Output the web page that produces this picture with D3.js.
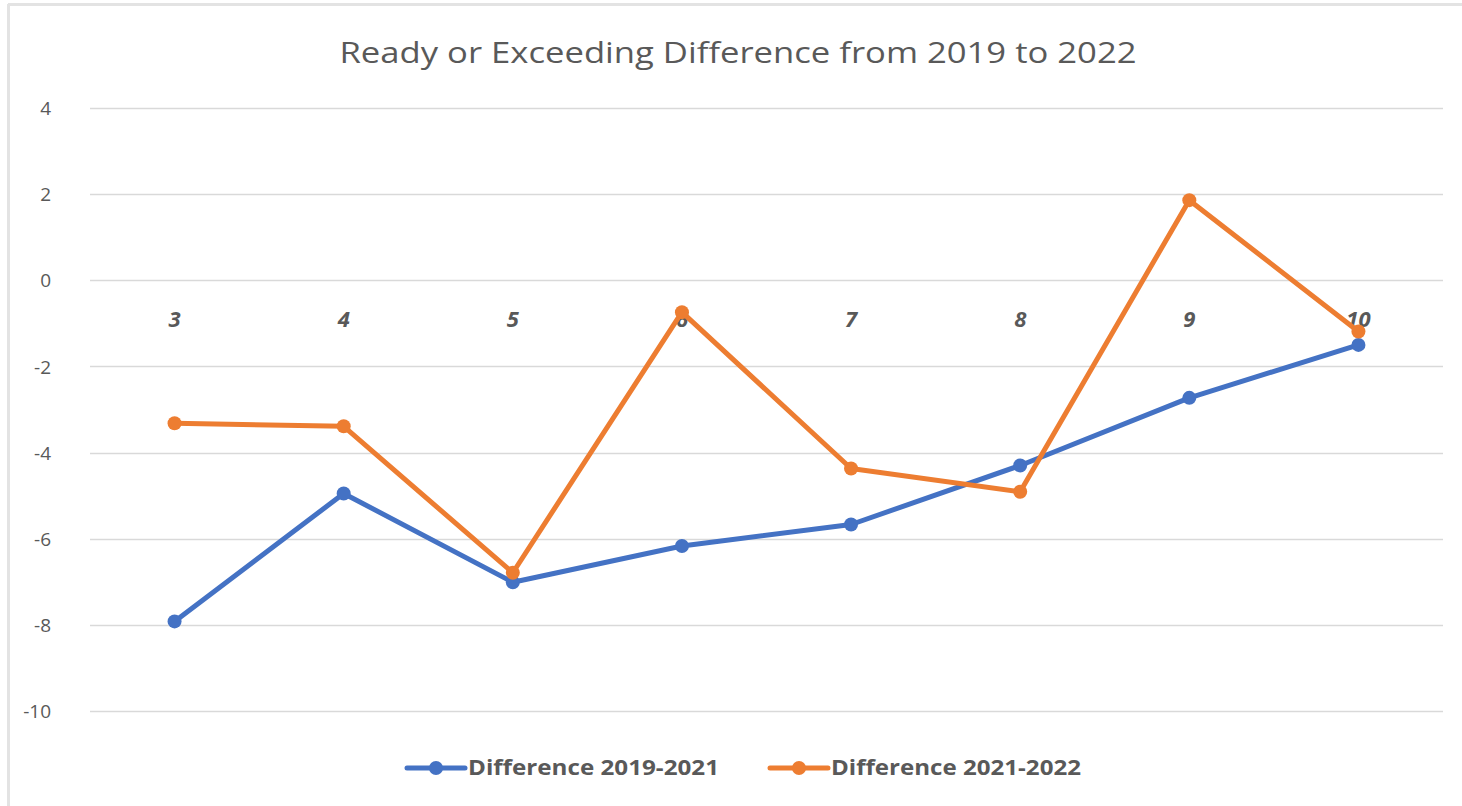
<!DOCTYPE html>
<html>
<head>
<meta charset="utf-8">
<script src="https://cdn.jsdelivr.net/npm/d3@7"></script>
<style>
    body { margin: 0; background: #fff; }
    svg { display: block; }
</style>
</head>
<body>
<div id="chart"></div>
<script>
const grades = ['3', '4', '5', '6', '7', '8', '9', '10'];
const diff2019to2021 = [-7.92, -4.95, -7.01, -6.17, -5.67, -4.30, -2.73, -1.50];
const diff2021to2022 = [-3.32, -3.39, -6.79, -0.74, -4.37, -4.91, 1.86, -1.19];
const yTicks = [4, 2, 0, -2, -4, -6, -8, -10];
const seriesNames = ['Difference 2019-2021', 'Difference 2021-2022'];

const width = 1462;
const height = 806;
const colors = ['#4472C4', '#ED7D31'];
const textColor = '#595959';

let svg = d3.select('#chart').append('svg')
    .attr('width', width)
    .attr('height', height);

// chart frame (only top and left edges visible)
svg.append('line')
    .attr('x1', 8).attr('x2', width).attr('y1', 4.5).attr('y2', 4.5)
    .attr('stroke', '#e3e3e3').attr('stroke-width', 3);
svg.append('line')
    .attr('x1', 8.5).attr('x2', 8.5).attr('y1', 4).attr('y2', height)
    .attr('stroke', '#e3e3e3').attr('stroke-width', 3);

let x = d3.scaleBand()
    .domain(grades)
    .range([90, 1443]);

let y = d3.scaleLinear()
    .domain([-10, 4])
    .range([711, 108]);

// gridlines
svg.append('g')
    .selectAll('line')
    .data(yTicks)
    .enter()
    .append('line')
    .attr('x1', 90)
    .attr('x2', 1443)
    .attr('y1', d => Math.round(y(d)) + 0.5)
    .attr('y2', d => Math.round(y(d)) + 0.5)
    .attr('stroke', '#d9d9d9')
    .attr('stroke-width', 1.5);

// y axis labels (plain hyphen for negatives, like the original)
let yAxis = d3.axisLeft(y)
    .tickValues(yTicks)
    .tickFormat(d => String(d))
    .tickSize(0)
    .tickPadding(0);
let yg = svg.append('g')
    .attr('transform', 'translate(51,0)')
    .call(yAxis);
yg.select('.domain').remove();
yg.selectAll('text')
    .attr('fill', textColor)
    .attr('font-family', 'Open Sans, sans-serif')
    .attr('font-size', 19)
    .attr('dy', '0.35em');

// category labels sit just below the zero line
svg.append('g')
    .selectAll('text')
    .data(grades)
    .enter()
    .append('text')
    .attr('x', d => x(d) + x.bandwidth() / 2)
    .attr('y', 327)
    .attr('text-anchor', 'middle')
    .attr('fill', textColor)
    .attr('font-family', 'Open Sans, sans-serif')
    .attr('font-weight', 'bold')
    .attr('font-style', 'italic')
    .attr('font-size', 22)
    .text(d => d);

let line = d3.line()
    .x((d, i) => x(grades[i]) + x.bandwidth() / 2)
    .y(d => y(d));

[diff2019to2021, diff2021to2022].forEach((values, s) => {
    let g = svg.append('g');
    g.append('path')
        .datum(values)
        .attr('d', line)
        .attr('fill', 'none')
        .attr('stroke', colors[s])
        .attr('stroke-width', 5)
        .attr('stroke-linejoin', 'round');
    g.selectAll('circle')
        .data(values)
        .enter()
        .append('circle')
        .attr('cx', (d, i) => x(grades[i]) + x.bandwidth() / 2)
        .attr('cy', d => y(d))
        .attr('r', 7)
        .attr('fill', colors[s]);
});

// title
svg.append('text')
    .attr('x', 738)
    .attr('y', 63)
    .attr('text-anchor', 'middle')
    .attr('fill', textColor)
    .attr('font-family', 'Open Sans, sans-serif')
    .attr('font-size', 29)
    .attr('textLength', 797)
    .attr('lengthAdjust', 'spacingAndGlyphs')
    .text('Ready or Exceeding Difference  from 2019 to 2022');

// legend
const legendX = [407, 770];
const legendTextLen = [251, 250];
let legend = svg.append('g')
    .selectAll('g')
    .data(seriesNames)
    .enter()
    .append('g')
    .attr('transform', (d, i) => 'translate(' + legendX[i] + ',768)');
legend.append('line')
    .attr('x1', 0).attr('x2', 58)
    .attr('stroke', (d, i) => colors[i])
    .attr('stroke-width', 5)
    .attr('stroke-linecap', 'round');
legend.append('circle')
    .attr('cx', 29)
    .attr('r', 7)
    .attr('fill', (d, i) => colors[i]);
legend.append('text')
    .attr('x', 61)
    .attr('dy', '0.35em')
    .attr('fill', textColor)
    .attr('font-family', 'Open Sans, sans-serif')
    .attr('font-weight', 'bold')
    .attr('font-size', 21)
    .attr('textLength', (d, i) => legendTextLen[i])
    .attr('lengthAdjust', 'spacingAndGlyphs')
    .text(d => d);
</script>
</body>
</html>
